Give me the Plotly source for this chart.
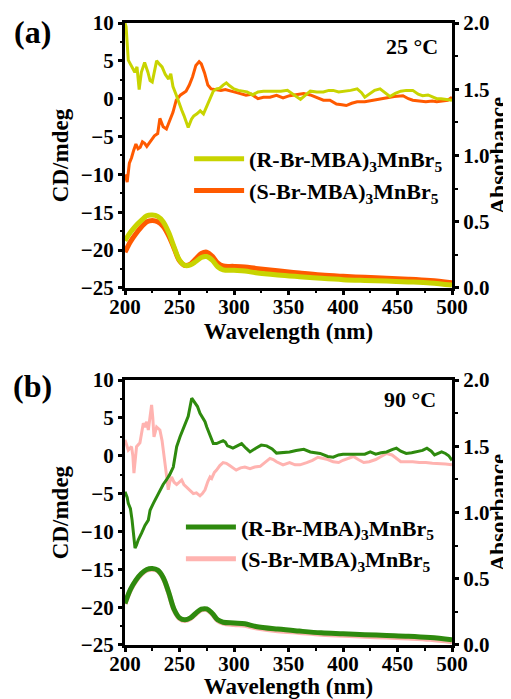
import plotly.graph_objects as go

# ---------------- data ----------------
# Panel (a) 25 °C : CD spectra (mdeg)
a_R_wl = [200,201,203,206,209,211,213,215,218,221,223,225,227,229,232,234,237,240,242,244,
          247,249,252,254,256,258,261,263,266,269,272,274,277,279,281,284,287,290,293,296,
          300,304,308,312,317,322,327,333,338,343,349,354,358,361,365,370,376,382,387,391,
          396,402,407,413,417,420,424,429,434,438,443,448,453,458,464,469,473,478,482,486,
          490,494,498,500]
a_R_cd = [10,9.5,5.1,4.2,3.5,4.2,1.2,3.5,4.8,3.5,2.4,2.2,3.6,5.0,4.5,4.2,3.2,2.6,3.3,1.6,
          0.5,-0.4,-1.5,-2.2,-3.0,-3.8,-2.7,-2.3,-2.0,-1.6,-2.0,-1.3,-0.5,0.4,1.0,1.3,1.4,1.8,2.1,1.7,
          1.3,1.1,1.0,0.9,0.5,0.9,1.0,1.0,0.9,1.0,1.1,0.6,0.1,-0.1,0.4,1.0,0.9,0.9,1.1,1.1,
          0.9,1.0,1.1,1.3,0.8,0.2,0.6,1.1,1.3,0.9,0.3,0.7,1.0,1.1,1.1,0.6,0.4,0.5,0.2,0.0,
          0.0,-0.1,-0.2,-0.2]

a_S_wl = [200,202,204,206,208,210,212,214,216,218,220,222,224,227,230,232,235,238,241,244,
          247,251,256,259,262,265,268,270,273,276,279,284,288,292,296,300,305,311,316,322,
          327,333,339,345,351,357,364,370,376,382,388,394,399,403,408,413,420,427,433,440,
          447,455,460,464,470,476,482,486,491,496,500]
a_S_cd = [-10.0,-11.0,-8.5,-7.8,-6.8,-6.0,-6.6,-6.4,-5.7,-5.9,-6.3,-5.8,-5.5,-4.9,-4.6,-2.6,-3.7,-4.0,-2.9,-1.8,
          -0.2,0.5,1.0,1.8,2.9,4.4,4.9,4.6,3.4,1.8,1.3,1.2,1.1,1.2,1.1,0.9,0.7,0.45,0.6,0.0,
          0.2,0.2,0.45,0.1,0.4,0.5,0.7,0.5,0.2,-0.2,-0.2,-0.7,-0.8,-0.9,-0.6,-0.4,-0.4,-0.2,0.0,0.2,
          0.3,0.4,0.0,-0.2,-0.3,-0.4,-0.3,-0.4,-0.3,-0.2,0.2]

# Panel (b) 90 °C : CD spectra (mdeg)
b_R_wl = [200,202,203,205,206.5,208,209.2,210.5,212.2,215.3,218.3,221.4,223,226,229,232,235,238,241,244.3,
          246,247.4,250.5,253,255,258,261.2,264.2,266.5,268.8,271,273.4,275,278,281,284,287,290,292,294,
          296,299,303,307,311,314.7,320,325,330,335,339,345,351,357,364,370,375,379,386,391,
          396,400,405,410,415,420,425,430,435,440,445,449,453,458,463,468,473,477,481,484,
          488,490.5,494,497,500]
b_R_cd = [-4.75,-5.5,-6.3,-7.0,-8.5,-11.0,-12.2,-11.8,-11.1,-10.2,-9.2,-8.5,-7.2,-6.3,-5.5,-4.5,-3.8,-3.2,-2.5,-1.5,
          0.0,1.2,2.5,3.4,4.3,5.2,7.6,7.0,6.5,5.6,5.0,4.5,3.8,2.6,1.6,1.6,1.8,2.0,1.8,1.3,
          1.2,1.0,1.3,1.6,1.0,0.5,1.0,1.4,1.3,0.9,0.35,0.4,0.5,0.7,0.85,0.5,0.4,0.3,-0.1,-0.2,
          0.1,0.2,0.2,0.2,0.3,0.2,0.5,0.2,0.4,0.5,0.8,1.0,0.6,0.3,0.4,0.5,0.7,1.0,0.6,0.1,
          0.4,0.5,0.3,0.0,-0.6]

b_S_wl = [200,203,206,207.2,208.2,209.5,210.6,213.7,215.5,216.8,218.5,219.9,221.4,223,224.4,225.5,226.6,229,232,234,
          236.6,238,239.7,241,242.7,245,247.4,250,252,254,256.6,259.5,262.7,265.5,268.8,271,273.4,276,278,279.5,
          282,284,287,290,293,296,299,302,306,310,314.7,319,324,328,333,336,339,345,351,356,
          360.5,366.7,372,377,381,386,391,396,400,405,409.5,414,419,424,430,435,440,445,449,453,
          458,464,470,476,482,488,494,500]
b_S_cd = [2.1,0.75,1.2,0.0,-2.3,0.0,1.2,1.7,3.0,4.3,3.8,4.5,3.4,5.0,6.7,5.0,2.5,3.8,3.4,2.0,
          -0.6,-2.5,-4.5,-3.5,-2.8,-3.5,-3.8,-3.4,-3.2,-3.8,-4.2,-4.6,-5.0,-4.9,-5.3,-5.0,-4.5,-3.4,-2.8,-3.0,
          -2.2,-1.9,-1.3,-0.9,-1.0,-1.3,-1.6,-1.9,-1.6,-1.5,-1.7,-1.5,-1.4,-0.9,-0.35,-0.5,-0.8,-1.2,-0.9,-1.2,
          -1.2,-0.9,-0.6,-0.2,-0.3,-0.5,-0.8,-0.9,-0.6,-0.3,-0.1,-0.5,-0.9,-0.8,-0.5,-0.1,0.3,0.1,-0.3,-0.8,
          -0.8,-0.8,-0.9,-0.9,-1.0,-1.0,-1.1,-1.2]

# Absorbance spectra (right axis)
abs_wl = [200,205,210,215,220,225,230,235,240,245,250,255,260,265,270,275,280,285,290,300,
          310,320,340,360,380,400,420,440,460,480,500]
a_R_abs = [0.357,0.42,0.47,0.51,0.545,0.55,0.54,0.50,0.42,0.31,0.21,0.17,0.175,0.20,0.23,0.237,0.21,0.16,0.137,0.133,
           0.128,0.115,0.098,0.085,0.073,0.063,0.057,0.052,0.046,0.038,0.022]
a_S_abs = [0.27,0.35,0.41,0.46,0.50,0.51,0.50,0.465,0.395,0.30,0.205,0.17,0.18,0.22,0.26,0.27,0.24,0.19,0.166,0.163,
           0.158,0.148,0.13,0.113,0.098,0.088,0.08,0.073,0.066,0.056,0.04]
b_R_abs = [0.314,0.42,0.49,0.54,0.57,0.577,0.565,0.51,0.40,0.27,0.205,0.19,0.205,0.24,0.27,0.272,0.24,0.19,0.172,0.166,
           0.16,0.14,0.12,0.105,0.092,0.085,0.078,0.072,0.066,0.056,0.04]
b_S_abs = [0.31,0.415,0.485,0.535,0.565,0.572,0.56,0.505,0.395,0.265,0.2,0.185,0.2,0.235,0.265,0.267,0.235,0.185,0.165,0.155,
           0.148,0.13,0.108,0.095,0.082,0.073,0.066,0.06,0.053,0.043,0.025]

label_R = "(R-Br-MBA)<sub>3</sub>MnBr<sub>5</sub>"
label_S = "(S-Br-MBA)<sub>3</sub>MnBr<sub>5</sub>"

col_aR = "#c8d400"
col_aS = "#ff5a00"
col_bR = "#2e8a0e"
col_bS = "#ffb3b0"

CD_W = 3
ABS_W = 5

fig = go.Figure()

# Panel (a)
fig.add_trace(go.Scatter(x=a_S_wl, y=a_S_cd, mode="lines", line=dict(color=col_aS, width=CD_W),
                         xaxis="x", yaxis="y", showlegend=False))
fig.add_trace(go.Scatter(x=a_R_wl, y=a_R_cd, mode="lines", line=dict(color=col_aR, width=CD_W),
                         xaxis="x", yaxis="y", showlegend=False))
fig.add_trace(go.Scatter(x=abs_wl, y=a_S_abs, mode="lines", line=dict(color=col_aS, width=ABS_W, shape="spline"),
                         xaxis="x", yaxis="y2", name=label_S, legend="legend", legendrank=2))
fig.add_trace(go.Scatter(x=abs_wl, y=a_R_abs, mode="lines", line=dict(color=col_aR, width=ABS_W, shape="spline"),
                         xaxis="x", yaxis="y2", name=label_R, legend="legend", legendrank=1))

# Panel (b)
fig.add_trace(go.Scatter(x=b_S_wl, y=b_S_cd, mode="lines", line=dict(color=col_bS, width=CD_W),
                         xaxis="x2", yaxis="y3", showlegend=False))
fig.add_trace(go.Scatter(x=b_R_wl, y=b_R_cd, mode="lines", line=dict(color=col_bR, width=CD_W),
                         xaxis="x2", yaxis="y3", showlegend=False))
fig.add_trace(go.Scatter(x=abs_wl, y=b_S_abs, mode="lines", line=dict(color=col_bS, width=ABS_W, shape="spline"),
                         xaxis="x2", yaxis="y4", name=label_S, legend="legend2", legendrank=2))
fig.add_trace(go.Scatter(x=abs_wl, y=b_R_abs, mode="lines", line=dict(color=col_bR, width=ABS_W, shape="spline"),
                         xaxis="x2", yaxis="y4", name=label_R, legend="legend2", legendrank=1))

FONT = "Liberation Serif"
tickfont = dict(family=FONT, size=21, color="black", weight="bold")
titlefont = dict(family=FONT, size=23, color="black", weight="bold")

def xax(anchor):
    return dict(domain=[0, 1], anchor=anchor, range=[200, 500], dtick=50, tick0=200,
                ticks="outside", ticklen=4, tickwidth=2.5, tickcolor="black",
                ticklabelstandoff=-6,
                showline=True, linewidth=3, linecolor="black", mirror=True,
                showgrid=False, zeroline=False, tickfont=tickfont, automargin=False,
                minor=dict(ticks="outside", dtick=25, ticklen=2.5, tickwidth=2, tickcolor="black"),
                title=dict(text="Wavelength (nm)", font=titlefont, standoff=0))

def yleft(dom, anchor):
    return dict(domain=dom, anchor=anchor, range=[-25, 10], dtick=5, tick0=0,
                ticks="outside", ticklen=4, tickwidth=2.5, tickcolor="black",
                showline=True, linewidth=3, linecolor="black",
                showgrid=False, zeroline=False, tickfont=tickfont, automargin=False,
                minor=dict(ticks="outside", dtick=2.5, ticklen=2.5, tickwidth=2, tickcolor="black"),
                title=dict(text="CD/mdeg", font=titlefont, standoff=6))

def yright(over, anchor):
    return dict(overlaying=over, anchor=anchor, side="right", range=[0, 2], dtick=0.5, tick0=0,
                tickformat=".1f",
                ticks="outside", ticklen=4, tickwidth=2.5, tickcolor="black",
                showline=True, linewidth=3, linecolor="black",
                showgrid=False, zeroline=False, tickfont=tickfont, automargin=False,
                minor=dict(ticks="outside", dtick=0.25, ticklen=2.5, tickwidth=2, tickcolor="black"),
                title=dict(text="Absorbance", font=titlefont, standoff=0))

leg_font = dict(family=FONT, size=22, color="black", weight="bold")

# the page body has an 8 px margin, so the figure is drawn 8 px smaller
fig.update_layout(
    width=503, height=691,
    margin=dict(l=117, r=59, t=15, b=54, autoexpand=False),
    paper_bgcolor="white", plot_bgcolor="white",
    font=dict(family=FONT, color="black", weight="bold"),
    xaxis=xax("y"),
    yaxis=yleft([0.574, 1.0], "x"),
    yaxis2=yright("y", "x"),
    xaxis2=xax("y3"),
    yaxis3=yleft([0.0, 0.426], "x2"),
    yaxis4=yright("y3", "x2"),
    legend=dict(x=0.196, y=0.815, xanchor="left", yanchor="top", bgcolor="rgba(0,0,0,0)",
                font=leg_font, itemwidth=50, tracegroupgap=0),
    legend2=dict(x=0.171, y=0.223, xanchor="left", yanchor="top", bgcolor="rgba(0,0,0,0)",
                 font=leg_font, itemwidth=50, tracegroupgap=0),
    annotations=[
        dict(text="(a)", x=-0.284, y=0.986, xref="paper", yref="paper", showarrow=False,
             xanchor="center", yanchor="middle",
             font=dict(family=FONT, size=32, color="black", weight="bold")),
        dict(text="(b)", x=-0.284, y=0.416, xref="paper", yref="paper", showarrow=False,
             xanchor="center", yanchor="middle",
             font=dict(family=FONT, size=32, color="black", weight="bold")),
        dict(text="25 °C", x=0.878, y=0.963, xref="paper", yref="paper", showarrow=False,
             xanchor="center", yanchor="middle",
             font=dict(family=FONT, size=22, color="black", weight="bold")),
        dict(text="90 °C", x=0.872, y=0.394, xref="paper", yref="paper", showarrow=False,
             xanchor="center", yanchor="middle",
             font=dict(family=FONT, size=22, color="black", weight="bold")),
    ],
)

fig.write_html("out.html")
